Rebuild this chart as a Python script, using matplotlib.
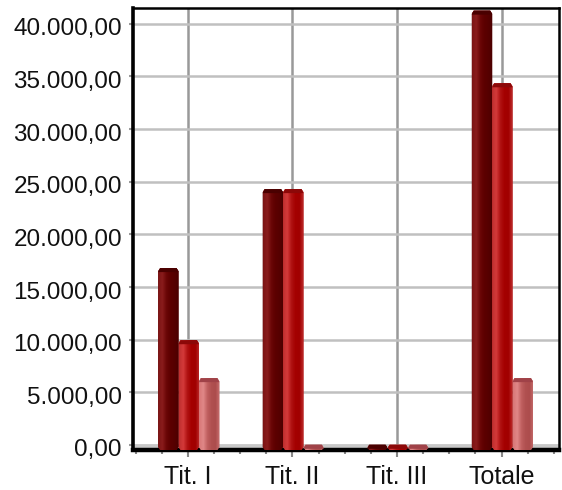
#!/usr/bin/env python3
"""Grouped pseudo-3D red bars for Tit. I / II / III and Totale."""
import numpy as np
import matplotlib
matplotlib.use("Agg")
import matplotlib.pyplot as plt
from matplotlib.colors import LinearSegmentedColormap
from matplotlib.patches import Polygon
from matplotlib.transforms import ScaledTranslation

plt.rcParams['font.family'] = ['Liberation Sans', 'DejaVu Sans']

categories = ["Tit. I", "Tit. II", "Tit. III", "Totale"]
series_a = [16800, 24300, 20, 41250]
series_b = [9950, 24300, 20, 34350]
series_c = [6350, 20, 20, 6350]
y_ticks = [0, 5000, 10000, 15000, 20000, 25000, 30000, 35000, 40000]
y_labels = ["0,00", "5.000,00", "10.000,00", "15.000,00", "20.000,00",
            "25.000,00", "30.000,00", "35.000,00", "40.000,00"]

W, H = 562, 490
L, R, T, B = 133, 559, 8, 450
BAR_W = 0.195
BASE = -475
YMAX = 41500
XMIN, XMAX = -0.525, 3.55
BAR_SHIFT = 0.008  # bars sit a hair right of the gridlines

# left to right shading of each cylinder, plus colour of its top cap
shades = [
    (["#7c1414", "#8a1c1c", "#6a0606", "#5c0000", "#560000", "#4a0000"], "#4a0000"),
    (["#c03030", "#d43a3a", "#b01212", "#a40000", "#a00000", "#c03030"], "#8c0808"),
    (["#d87878", "#e08888", "#c06060", "#b05050", "#ac4c4c", "#c87070"], "#a04248"),
]


def draw_bar(ax, x, value, colors, cap):
    px_x = (XMAX - XMIN) / (R - L)  # data units per pixel
    px_y = (YMAX - BASE) / (B - T)
    dx, dy = 2 * px_x, 3 * px_y
    left, right = x - BAR_W / 2, x + BAR_W / 2
    top = value
    outline = [(left, BASE + dy), (left + dx, BASE), (right - dx, BASE), (right, BASE + dy),
               (right, top - dy), (right - dx, top), (left + dx, top), (left, top - dy)]
    shape = Polygon(outline, closed=True, facecolor=colors[3], edgecolor="none", zorder=3)
    ax.add_patch(shape)
    cmap = LinearSegmentedColormap.from_list("bar", colors)
    img = ax.imshow(np.linspace(0, 1, 40).reshape(1, -1), extent=(left, right, BASE, top),
                    aspect="auto", cmap=cmap, zorder=3.1, interpolation="bilinear")
    img.set_clip_path(shape)
    cap_h = 4 * px_y
    ax.add_patch(Polygon([(left, top - cap_h), (left + dx, top), (right - dx, top), (right, top - cap_h)],
                         closed=True, facecolor=cap, edgecolor="none", zorder=3.2))


def main():
    fig = plt.figure(figsize=(W / 100, H / 100), dpi=100, facecolor="white")
    ax = fig.add_axes([L / W, 1 - B / H, (R - L) / W, (B - T) / H])

    x = np.arange(len(categories))
    for i, vals in enumerate([series_a, series_b, series_c]):
        for xi, v in zip(x, vals):
            draw_bar(ax, xi + (i - 1) * BAR_W + BAR_SHIFT, v, *shades[i])

    ax.set_xlim(XMIN, XMAX)
    ax.set_ylim(BASE, YMAX)

    ax.set_yticks(y_ticks, y_labels, fontsize=17.5, color="#111111")
    ax.set_xticks(x, categories, fontsize=18, color="#111111")
    ax.set_xticks(np.arange(-0.5, 3.6, 0.25), minor=True)
    ax.tick_params(axis="x", which="major", length=5, width=1.5, color="#888888", pad=5.5)
    ax.tick_params(axis="x", which="minor", length=3, width=1.5, color="#888888")
    ax.tick_params(axis="y", which="major", length=3, width=1.5, color="#999999", pad=5)

    # the y labels sit a little under their gridlines
    shift = ScaledTranslation(0, -3 / 100, fig.dpi_scale_trans)
    for lab in ax.get_yticklabels():
        lab.set_transform(lab.get_transform() + shift)

    ax.grid(axis="y", color="#c0c0c0", lw=1.8, zorder=1)
    ax.grid(axis="x", color="#999999", lw=1.8, zorder=1)
    ax.axhspan(BASE, 0, color="#c8c8c8", zorder=1)
    ax.set_axisbelow(True)

    ax.spines["left"].set_linewidth(2.6)
    ax.spines["bottom"].set_linewidth(3.2)
    ax.spines["top"].set_linewidth(1.8)
    ax.spines["right"].set_linewidth(1.8)
    for s in ax.spines.values():
        s.set_color("black")
        s.set_zorder(2.5)

    fig.savefig("out.png", dpi=100)


if __name__ == "__main__":
    main()
